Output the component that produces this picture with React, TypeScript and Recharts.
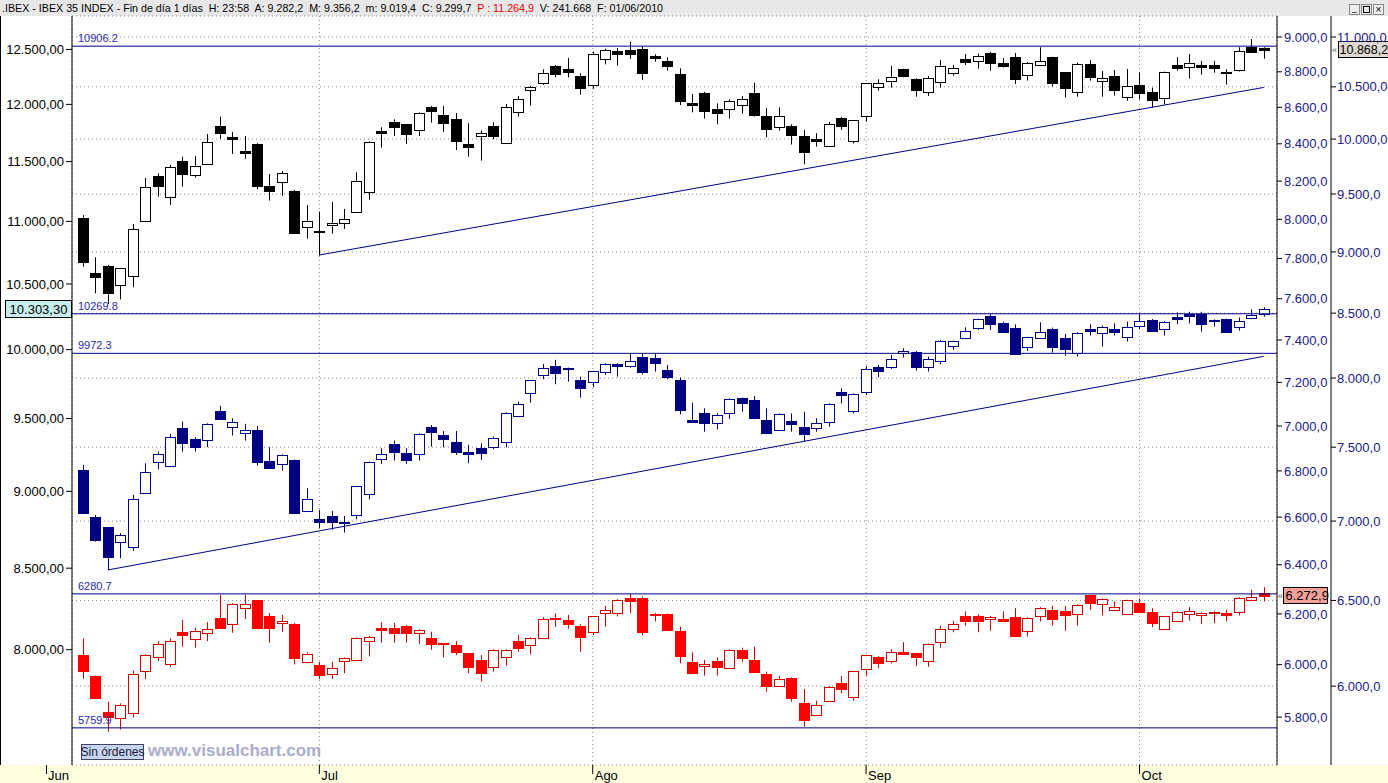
import { ComposedChart, Bar, XAxis, YAxis, CartesianGrid, ReferenceLine } from "recharts";

// [open, high, low, close] per session, 4 Jun .. 15 Oct 2010
// IBEX 35 (black, outer right axis)
const ibex: number[][] = [
  [9286, 9315, 8877, 8919], [8822, 8955, 8659, 8789], [8883, 8891, 8573, 8664], [8727, 8863, 8610, 8863],
  [8803, 9238, 8708, 9192], [9266, 9643, 9258, 9559], [9661, 9685, 9477, 9574], [9471, 9761, 9403, 9740],
  [9798, 9837, 9565, 9676], [9667, 9844, 9646, 9752], [9767, 10048, 9767, 9970], [10123, 10212, 10001, 10061],
  [10023, 10067, 9862, 10004], [9890, 10029, 9819, 9874], [9955, 9961, 9541, 9574], [9571, 9679, 9442, 9530],
  [9604, 9706, 9483, 9685], [9527, 9536, 9155, 9158], [9209, 9403, 9112, 9261], [9181, 9345, 8971, 9169],
  [9226, 9430, 9155, 9246], [9243, 9368, 9195, 9278], [9345, 9694, 9336, 9613], [9521, 9980, 9448, 9975],
  [10076, 10111, 9921, 10061], [10161, 10186, 10029, 10117], [10140, 10142, 9955, 10051], [10083, 10253, 10029, 10250],
  [10301, 10314, 10155, 10269], [10228, 10314, 10067, 10155], [10190, 10247, 9899, 9986], [9955, 10149, 9837, 9924],
  [10026, 10080, 9801, 10055], [10123, 10158, 9998, 10032], [9967, 10333, 9958, 10301], [10253, 10411, 10212, 10378],
  [10466, 10509, 10317, 10495], [10535, 10673, 10518, 10633], [10706, 10716, 10594, 10630], [10673, 10787, 10591, 10650],
  [10607, 10633, 10424, 10492], [10522, 10851, 10482, 10827], [10777, 10881, 10723, 10868], [10858, 10888, 10710, 10831],
  [10868, 10949, 10777, 10831], [10878, 10908, 10568, 10640], [10810, 10824, 10750, 10790], [10753, 10794, 10659, 10710],
  [10627, 10683, 10323, 10365], [10345, 10430, 10253, 10326], [10440, 10450, 10193, 10269], [10282, 10339, 10139, 10250],
  [10282, 10378, 10193, 10362], [10320, 10411, 10240, 10385], [10440, 10541, 10212, 10228], [10218, 10295, 10017, 10092],
  [10111, 10301, 10080, 10215], [10123, 10139, 9949, 10042], [10029, 10086, 9767, 9884], [10004, 10055, 9930, 9986],
  [9939, 10161, 9930, 10139], [10199, 10209, 10086, 10127], [9980, 10180, 9958, 10178], [10221, 10535, 10164, 10533],
  [10502, 10574, 10463, 10535], [10554, 10710, 10492, 10594], [10676, 10678, 10594, 10610], [10577, 10584, 10404, 10473],
  [10446, 10607, 10411, 10584], [10544, 10767, 10492, 10703], [10633, 10716, 10610, 10683], [10773, 10827, 10716, 10750],
  [10753, 10831, 10680, 10804], [10837, 10848, 10659, 10740], [10737, 10787, 10690, 10710], [10797, 10837, 10528, 10581],
  [10614, 10746, 10561, 10740], [10713, 10895, 10713, 10753], [10797, 10799, 10502, 10541], [10643, 10645, 10395, 10492],
  [10446, 10740, 10404, 10723], [10727, 10767, 10561, 10600], [10561, 10656, 10404, 10584], [10607, 10666, 10414, 10469],
  [10398, 10676, 10365, 10505], [10515, 10640, 10378, 10443], [10450, 10492, 10301, 10375], [10395, 10650, 10330, 10643],
  [10713, 10794, 10659, 10690], [10693, 10827, 10581, 10737], [10720, 10757, 10620, 10700], [10713, 10757, 10640, 10690],
  [10650, 10673, 10522, 10633], [10669, 10895, 10650, 10854], [10895, 10979, 10841, 10843], [10885, 10895, 10780, 10868.2],
];

// navy series (left axis)
const navy: number[][] = [
  [9144, 9178, 8854, 8856], [8828, 8843, 8670, 8681], [8763, 8765, 8489, 8574], [8670, 8724, 8563, 8713],
  [8638, 8976, 8610, 8947], [8992, 9190, 8987, 9129], [9197, 9270, 9149, 9251], [9174, 9392, 9167, 9369],
  [9432, 9479, 9270, 9332], [9355, 9369, 9270, 9304], [9351, 9467, 9300, 9465], [9554, 9590, 9498, 9500],
  [9444, 9502, 9381, 9474], [9397, 9463, 9346, 9420], [9420, 9448, 9174, 9201], [9206, 9300, 9156, 9158],
  [9185, 9251, 9140, 9249], [9213, 9215, 8850, 8859], [8872, 9021, 8865, 8947], [8815, 8876, 8757, 8800],
  [8836, 8870, 8746, 8800], [8797, 8836, 8728, 8795], [8843, 9036, 8815, 9034], [8981, 9201, 8947, 9199],
  [9217, 9293, 9185, 9251], [9321, 9346, 9208, 9270], [9258, 9293, 9185, 9213], [9251, 9397, 9208, 9395],
  [9439, 9455, 9304, 9409], [9385, 9413, 9300, 9355], [9334, 9413, 9247, 9270], [9265, 9316, 9190, 9251],
  [9292, 9327, 9212, 9263], [9304, 9374, 9286, 9362], [9334, 9544, 9299, 9542], [9518, 9620, 9516, 9604],
  [9680, 9777, 9613, 9775], [9811, 9894, 9782, 9862], [9879, 9924, 9746, 9831], [9860, 9867, 9765, 9865],
  [9777, 9801, 9649, 9721], [9765, 9843, 9724, 9841], [9838, 9899, 9814, 9897], [9897, 9899, 9801, 9882],
  [9879, 9973, 9867, 9919], [9943, 9968, 9818, 9838], [9936, 9968, 9838, 9904], [9850, 9887, 9782, 9801],
  [9777, 9794, 9530, 9561], [9490, 9613, 9471, 9473], [9537, 9573, 9408, 9471], [9467, 9537, 9425, 9523],
  [9537, 9644, 9497, 9642], [9644, 9649, 9549, 9608], [9632, 9661, 9495, 9506], [9490, 9573, 9390, 9401],
  [9418, 9537, 9416, 9530], [9483, 9537, 9408, 9460], [9439, 9549, 9343, 9390], [9432, 9502, 9408, 9467],
  [9474, 9608, 9443, 9606], [9690, 9716, 9608, 9666], [9554, 9680, 9537, 9678], [9687, 9879, 9668, 9855],
  [9870, 9887, 9796, 9845], [9870, 9960, 9857, 9928], [9973, 10010, 9941, 9986], [9980, 9990, 9845, 9874],
  [9870, 9948, 9838, 9928], [9918, 10072, 9891, 10065], [10030, 10067, 9998, 10065], [10090, 10167, 10085, 10140],
  [10165, 10234, 10147, 10232], [10252, 10267, 10147, 10195], [10197, 10210, 10127, 10135], [10160, 10190, 9965, 9967],
  [10022, 10097, 9990, 10095], [10085, 10205, 10083, 10130], [10152, 10165, 9978, 10017], [10085, 10117, 9955, 10005],
  [9978, 10130, 9948, 10122], [10157, 10190, 10105, 10142], [10122, 10180, 10022, 10167], [10152, 10197, 10105, 10135],
  [10092, 10210, 10060, 10167], [10177, 10267, 10152, 10217], [10222, 10230, 10140, 10142], [10154, 10215, 10105, 10210],
  [10242, 10280, 10190, 10230], [10265, 10285, 10197, 10252], [10267, 10285, 10135, 10190], [10217, 10227, 10172, 10222],
  [10230, 10234, 10128, 10130], [10167, 10242, 10142, 10217], [10234, 10303, 10230, 10260], [10267, 10319, 10247, 10303.3],
];

// red series (inner right axis)
const red: number[][] = [
  [6038, 6103, 5946, 5977], [5956, 5958, 5872, 5874], [5818, 5858, 5746, 5802], [5795, 5852, 5754, 5845],
  [5814, 5977, 5799, 5963], [5974, 6041, 5944, 6039], [6028, 6092, 6014, 6081], [6001, 6103, 5992, 6091],
  [6128, 6176, 6070, 6115], [6099, 6145, 6066, 6132], [6123, 6167, 6092, 6140], [6184, 6277, 6143, 6145],
  [6159, 6243, 6125, 6241], [6223, 6277, 6179, 6239], [6254, 6256, 6139, 6145], [6192, 6203, 6086, 6145],
  [6163, 6196, 6129, 6172], [6160, 6163, 6001, 6027], [6009, 6048, 6005, 6041], [5998, 6011, 5944, 5961],
  [5963, 6011, 5944, 5986], [6013, 6028, 5967, 6026], [6017, 6107, 6015, 6105], [6091, 6112, 6032, 6110],
  [6144, 6167, 6086, 6137], [6144, 6164, 6086, 6125], [6153, 6156, 6086, 6123], [6123, 6139, 6081, 6136],
  [6104, 6129, 6058, 6079], [6083, 6085, 6028, 6079], [6076, 6092, 6037, 6050], [6044, 6046, 5967, 5992],
  [6018, 6037, 5935, 5966], [5990, 6060, 5973, 6058], [6028, 6060, 5996, 6058], [6091, 6116, 6050, 6066],
  [6075, 6107, 6040, 6105], [6103, 6187, 6101, 6179], [6184, 6202, 6149, 6178], [6176, 6196, 6141, 6159],
  [6152, 6159, 6050, 6110], [6129, 6192, 6116, 6190], [6203, 6232, 6149, 6215], [6203, 6259, 6190, 6257],
  [6263, 6281, 6203, 6250], [6265, 6270, 6115, 6129], [6198, 6203, 6170, 6195], [6200, 6202, 6135, 6137],
  [6132, 6149, 6005, 6035], [6010, 6047, 5965, 5967], [5993, 6018, 5958, 6001], [6014, 6028, 5958, 5992],
  [5986, 6060, 5984, 6058], [6057, 6066, 6011, 6027], [6018, 6070, 5968, 5970], [5964, 5973, 5896, 5918],
  [5918, 5956, 5916, 5944], [5949, 5951, 5858, 5871], [5853, 5906, 5764, 5788], [5808, 5862, 5806, 5845],
  [5859, 5917, 5857, 5915], [5928, 5956, 5890, 5905], [5876, 5976, 5862, 5974], [5982, 6040, 5958, 6038],
  [6031, 6034, 5986, 6005], [6014, 6060, 6005, 6048], [6049, 6088, 6041, 6043], [6045, 6047, 5995, 6031],
  [6014, 6083, 5992, 6081], [6087, 6153, 6066, 6139], [6141, 6172, 6127, 6159], [6191, 6210, 6153, 6171],
  [6192, 6199, 6127, 6170], [6179, 6192, 6133, 6187], [6181, 6210, 6170, 6173], [6187, 6223, 6110, 6112],
  [6133, 6187, 6110, 6185], [6191, 6227, 6170, 6225], [6216, 6232, 6153, 6179], [6212, 6232, 6133, 6195],
  [6199, 6239, 6153, 6237], [6275, 6277, 6216, 6243], [6239, 6263, 6194, 6259], [6215, 6250, 6213, 6227],
  [6199, 6257, 6197, 6255], [6243, 6262, 6207, 6209], [6207, 6223, 6147, 6163], [6139, 6192, 6137, 6190],
  [6171, 6211, 6169, 6209], [6199, 6227, 6173, 6211], [6196, 6206, 6159, 6204], [6203, 6211, 6163, 6209],
  [6204, 6216, 6170, 6196], [6207, 6267, 6194, 6265], [6255, 6297, 6253, 6267], [6283, 6308, 6250, 6272.9],
];

const monthTicks = [19, 41, 63, 85];
const monthLabels = ["Jul", "Ago", "Sep", "Oct"];
const leftTicks = [8000, 8500, 9000, 9500, 10000, 10500, 11000, 11500, 12000, 12500];
const innerTicks = [5800, 6000, 6200, 6400, 6600, 6800, 7000, 7200, 7400, 7600, 7800, 8000, 8200, 8400, 8600, 8800, 9000];
const outerTicks = [6000, 6500, 7000, 7500, 8000, 8500, 9000, 9500, 10000, 10500, 11000];

// horizontal levels and trendlines
const ibexLevel = 10906.2;
const navyLevels = [10269.8, 9972.3];
const redLevels = [6280.7, 5759.9];
const ibexTrend = [{ x: 19, y: 8974 }, { x: 95, y: 10494 }];
const navyTrend = [{ x: 2, y: 8489 }, { x: 95, y: 9950 }];

const data = ibex.map((b, i) => ({
  i,
  bO: b[0], bH: b[1], bL: b[2], bC: b[3],
  nO: navy[i][0], nH: navy[i][1], nL: navy[i][2], nC: navy[i][3],
  rO: red[i][0], rH: red[i][1], rL: red[i][2], rC: red[i][3],
}));

const FONT = "'Liberation Sans', Arial, sans-serif";
const NAVY = "#000080";
const AXIS_BLUE = "#20208c";

function fmt(v: number, dec: number) {
  const [a, b] = v.toFixed(dec).split(".");
  return a.replace(/\B(?=(\d{3})+(?!\d))/g, ".") + "," + b;
}

function candle(k: string, col: string, wick: string) {
  return (p: any) => {
    const { x, y, width, height, payload } = p;
    if (!payload) return <g />;
    const o = payload[k + "O"], h = payload[k + "H"], l = payload[k + "L"], c = payload[k + "C"];
    const top = Math.min(y, y + height), bot = Math.max(y, y + height);
    const lh = Math.log(h), span = lh - Math.log(l);
    const at = (v: number) => (span > 0 ? top + ((bot - top) * (lh - Math.log(v))) / span : top);
    const cx = Math.floor(x + width / 2) + 0.5;
    const bt = Math.round(at(Math.max(o, c))) + 0.5;
    const bb = Math.max(Math.round(at(Math.min(o, c))) + 0.5, bt + 1);
    const up = c >= o;
    return (
      <g>
        <line x1={cx} x2={cx} y1={top} y2={bot} stroke={wick} strokeWidth={1} />
        <rect x={cx - 5} y={bt} width={10} height={bb - bt} fill={up ? "#fff" : col} stroke={up ? wick : col} strokeWidth={1} />
      </g>
    );
  };
}

const lineLabel = (txt: string) => (p: any) => {
  const vb = p.viewBox || {};
  return (
    <text x={vb.x + 6} y={vb.y - 4} fontSize={11} fill="#2a2aaa" fontFamily={FONT}>
      {txt}
    </text>
  );
};

const leftBox = (txt: string) => (p: any) => {
  const vb = p.viewBox || {};
  return (
    <g>
      <rect x={5.5} y={Math.round(vb.y) - 8.5} width={66} height={17} fill="#c8eeee" stroke="#000" />
      <text x={38.5} y={Math.round(vb.y) + 4.5} fontSize={13} fill="#000" textAnchor="middle" fontFamily={FONT}>{txt}</text>
    </g>
  );
};

const outerBox = (txt: string) => (p: any) => {
  const vb = p.viewBox || {};
  const yy = Math.round(vb.y);
  return (
    <g>
      <text x={1332} y={yy + 3} fontSize={9} fill="#555" fontFamily={FONT}>«</text>
      <rect x={1338.5} y={yy - 8.5} width={56} height={16} fill="#dedad2" stroke="#000" />
      <text x={1339.5} y={yy + 4} fontSize={12.5} fill="#000" fontFamily={FONT}>{txt}</text>
    </g>
  );
};

const innerBox = (txt: string) => (p: any) => {
  const vb = p.viewBox || {};
  const yy = Math.round(vb.y);
  return (
    <g>
      <text x={1278} y={yy + 3} fontSize={9} fill="#555" fontFamily={FONT}>«</text>
      <rect x={1283.5} y={yy - 8.5} width={44} height={16} fill="#f4a09a" stroke="#000" />
      <text x={1285.5} y={yy + 4} fontSize={13} fill="#000" fontFamily={FONT}>{txt}</text>
    </g>
  );
};

const MonthTick = (p: any) => {
  const { x, y, payload } = p;
  const idx = monthTicks.indexOf(payload.value);
  return (
    <g>
      <line x1={x} x2={x} y1={y} y2={y + 9} stroke="#000" />
      <text x={x + 2} y={y + 15} fontSize={13} fill="#000" fontFamily={FONT}>{monthLabels[idx]}</text>
    </g>
  );
};

export default function App() {
  const last = ibex.length - 1;
  return (
    <div style={{ position: "absolute", left: 0, top: 0, width: 1388, height: 783, background: "#fff", overflow: "hidden", fontFamily: FONT }}>
      <div style={{ position: "absolute", left: 0, top: 0, width: 1388, height: 16, background: "#e8e8e8", fontSize: 10.7, lineHeight: "16px", whiteSpace: "nowrap", paddingLeft: 2, color: "#000" }}>
        .IBEX - IBEX 35 INDEX - Fin de día 1 días&nbsp; H: 23:58&nbsp; A: 9.282,2&nbsp; M: 9.356,2&nbsp; m: 9.019,4&nbsp; C: 9.299,7&nbsp; <span style={{ color: "#e00000" }}>P : 11.264,9</span>&nbsp; V: 241.668&nbsp; F: 01/06/2010
      </div>
      <div style={{ position: "absolute", left: 1349, top: 4, width: 9, height: 9, border: "1px solid #888", background: "#eee", fontSize: 9, lineHeight: "7px", textAlign: "center" }}>_</div>
      <div style={{ position: "absolute", left: 1361, top: 4, width: 9, height: 9, border: "1px solid #888", background: "#eee" }}>
        <div style={{ position: "absolute", left: 1, top: 1, width: 5, height: 5, border: "1px solid #000" }} />
      </div>
      <div style={{ position: "absolute", left: 1373, top: 4, width: 9, height: 9, border: "1px solid #888", background: "#eee", fontSize: 10, lineHeight: "9px", textAlign: "center" }}>×</div>
      <div style={{ position: "absolute", left: 0, top: 765, width: 1388, height: 18, background: "#ffffe0" }} />
      <div style={{ position: "absolute", left: 0, top: 16, width: 1, height: 749, background: "#000" }} />

      <div style={{ position: "absolute", left: 0, top: 0 }}>
        <ComposedChart width={1388} height={783} data={data} margin={{ top: 16, right: 0, bottom: 0, left: 0 }}>
          <XAxis xAxisId="x" dataKey="i" type="category" height={18} padding={{ left: 5, right: 7 }}
            ticks={monthTicks} interval={0} axisLine={false} tickLine={false} tickSize={0} tickMargin={0} tick={<MonthTick />} />
          <XAxis xAxisId="x2" dataKey="i" type="category" hide padding={{ left: 5, right: 7 }} />
          <XAxis xAxisId="x3" dataKey="i" type="category" hide padding={{ left: 5, right: 7 }} />
          <YAxis yAxisId="left" orientation="left" width={72} scale="log" domain={[7342.9, 12815]} allowDataOverflow
            ticks={leftTicks} interval={0} tickFormatter={(v: number) => fmt(v, 2)}
            tick={{ fontSize: 13, fill: "#000" }} tickSize={6} tickMargin={2} axisLine={{ stroke: "#000" }} tickLine={{ stroke: "#000" }} />
          <YAxis yAxisId="inner" orientation="right" width={54} scale="log" domain={[5623.4, 9122.9]} allowDataOverflow
            ticks={innerTicks} interval={0} tickFormatter={(v: number) => fmt(v, 1)}
            tick={{ fontSize: 13, fill: AXIS_BLUE }} tickSize={5} tickMargin={2} axisLine={{ stroke: "#000" }} tickLine={{ stroke: "#000" }} />
          <YAxis yAxisId="outer" orientation="right" width={57} scale="log" domain={[5574.2, 11217.8]} allowDataOverflow
            ticks={outerTicks} interval={0} tickFormatter={(v: number) => fmt(v, 1)}
            tick={{ fontSize: 13, fill: AXIS_BLUE }} tickSize={5} tickMargin={1} axisLine={{ stroke: "#000" }} tickLine={{ stroke: "#000" }} />

          <CartesianGrid xAxisId="x" yAxisId="outer" stroke="#888" strokeDasharray="1 3" />

          <ReferenceLine xAxisId="x" yAxisId="outer" y={ibexLevel} stroke={NAVY} label={lineLabel(String(ibexLevel))} />
          {navyLevels.map((v) => (
            <ReferenceLine key={v} xAxisId="x" yAxisId="left" y={v} stroke={NAVY} label={lineLabel(String(v))} />
          ))}
          {redLevels.map((v) => (
            <ReferenceLine key={v} xAxisId="x" yAxisId="inner" y={v} stroke={NAVY} label={lineLabel(String(v))} />
          ))}
          <ReferenceLine xAxisId="x" yAxisId="outer" segment={ibexTrend} stroke={NAVY} />
          <ReferenceLine xAxisId="x" yAxisId="left" segment={navyTrend} stroke={NAVY} />

          <Bar xAxisId="x" yAxisId="outer" name="IBEX" dataKey={(d: any) => [d.bL, d.bH]} barSize={11}
            shape={candle("b", "#000", "#000")} isAnimationActive={false} />
          <Bar xAxisId="x2" yAxisId="left" name="navy" dataKey={(d: any) => [d.nL, d.nH]} barSize={11}
            shape={candle("n", NAVY, NAVY)} isAnimationActive={false} />
          <Bar xAxisId="x3" yAxisId="inner" name="red" dataKey={(d: any) => [d.rL, d.rH]} barSize={11}
            shape={candle("r", "#ff0000", "#d00000")} isAnimationActive={false} />

          <ReferenceLine xAxisId="x" yAxisId="left" y={navy[last][3]} strokeOpacity={0} label={leftBox(fmt(navy[last][3], 2))} />
          <ReferenceLine xAxisId="x" yAxisId="outer" y={ibex[last][3]} strokeOpacity={0} label={outerBox(fmt(ibex[last][3], 1))} />
          <ReferenceLine xAxisId="x" yAxisId="inner" y={red[last][3]} strokeOpacity={0} label={innerBox(fmt(red[last][3], 1))} />
        </ComposedChart>
      </div>

      <svg style={{ position: "absolute", left: 0, top: 0, pointerEvents: "none" }} width={1388} height={783}>
        <line x1={46.5} x2={46.5} y1={765} y2={774} stroke="#000" />
        <text x={48} y={780} fontSize={13} fill="#000" fontFamily={FONT}>Jun</text>
        <rect x={81.5} y={744.5} width={62} height={15} fill="#c6d6ee" stroke="#404060" />
        <text x={112.5} y={756} fontSize={12} fill="#1a1a40" textAnchor="middle" fontFamily={FONT}>Sin órdenes</text>
        <text x={148} y={756} fontSize={17} fontWeight="bold" fill="#ababcb" fontFamily={FONT}>www.visualchart.com</text>
      </svg>
    </div>
  );
}
